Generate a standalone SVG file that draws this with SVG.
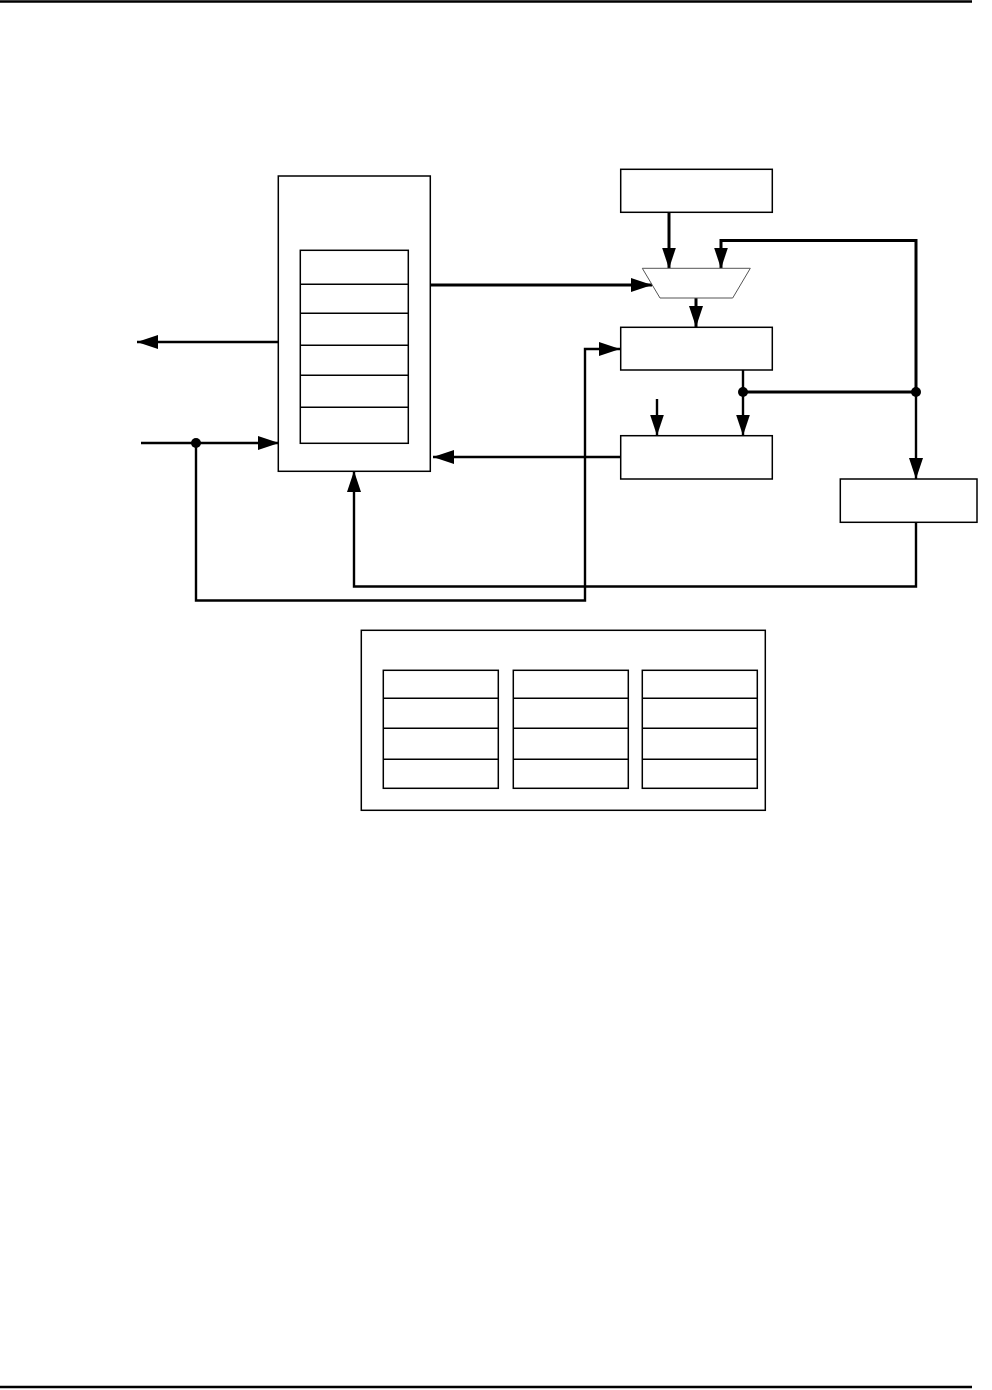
<svg xmlns="http://www.w3.org/2000/svg" width="992" height="1390" viewBox="0 0 992 1390">
<defs>
<style>
.box{fill:#fff;stroke:#000;stroke-width:1.5}
.trap{fill:#fff;stroke:#555;stroke-width:1}
.wire{fill:none;stroke:#000;stroke-width:2.4}
.thick{fill:none;stroke:#000;stroke-width:3}
.rule{stroke:#000;stroke-width:2.5}
</style>
<marker id="ah" markerUnits="userSpaceOnUse" markerWidth="22" markerHeight="15" refX="21" refY="7" orient="auto">
<path d="M0,0 L21,7 L0,14 z" fill="#000"/>
</marker>
</defs>
<rect width="992" height="1390" fill="#fff"/>
<line class="rule" x1="0" y1="1.5" x2="972" y2="1.5"/>
<line class="rule" x1="0" y1="1387" x2="972" y2="1387"/>

<g id="connectors">
<line class="wire" x1="278" y1="342" x2="137" y2="342" marker-end="url(#ah)"/>
<line class="wire" x1="141" y1="443" x2="279" y2="443" marker-end="url(#ah)"/>
<polyline class="wire" points="196,443 196,600.5 585,600.5 585,349 620,349" marker-end="url(#ah)"/>
<polyline class="wire" points="916,522 916,586.5 354,586.5 354,471" marker-end="url(#ah)"/>
<line class="thick" x1="430" y1="285" x2="652" y2="285" marker-end="url(#ah)"/>
<line class="thick" x1="669" y1="212" x2="669" y2="268.5" marker-end="url(#ah)"/>
<polyline class="thick" points="916,392 916,240.5 721,240.5 721,268.5" marker-end="url(#ah)"/>
<line class="thick" x1="696" y1="298" x2="696" y2="327" marker-end="url(#ah)"/>
<line class="wire" x1="743" y1="370" x2="743" y2="435.5" marker-end="url(#ah)"/>
<line class="thick" x1="743" y1="392" x2="916" y2="392"/>
<line class="wire" x1="916" y1="392" x2="916" y2="479" marker-end="url(#ah)"/>
<line class="wire" x1="657" y1="399" x2="657" y2="435.5" marker-end="url(#ah)"/>
<line class="wire" x1="620" y1="457" x2="433" y2="457" marker-end="url(#ah)"/>
<circle cx="196" cy="443" r="5" fill="#000"/>
<circle cx="743" cy="392" r="5" fill="#000"/>
<circle cx="916" cy="392" r="5" fill="#000"/>
</g>

<g id="regfile">
<rect class="box" x="278.3" y="176" width="152" height="295.3"/>
<rect class="box" x="300.3" y="250.3" width="108" height="193"/>
<line class="box" x1="300.3" y1="284.3" x2="408.3" y2="284.3"/>
<line class="box" x1="300.3" y1="313.3" x2="408.3" y2="313.3"/>
<line class="box" x1="300.3" y1="345.3" x2="408.3" y2="345.3"/>
<line class="box" x1="300.3" y1="375.3" x2="408.3" y2="375.3"/>
<line class="box" x1="300.3" y1="407.3" x2="408.3" y2="407.3"/>
</g>

<g id="topbox"><rect class="box" x="620.7" y="169.3" width="151.6" height="43"/></g>
<g id="mux"><polygon class="trap" points="642.3,268.3 750.3,268.3 732.7,298 660,298"/></g>
<g id="box2"><rect class="box" x="620.7" y="327.3" width="151.6" height="42.7"/></g>
<g id="box3"><rect class="box" x="620.7" y="435.7" width="151.6" height="43.3"/></g>
<g id="box4"><rect class="box" x="840.3" y="479" width="136.7" height="43.3"/></g>

<g id="table">
<rect class="box" x="361.3" y="630.3" width="404" height="180"/>
<g id="col1">
<rect class="box" x="383.3" y="670.3" width="115" height="118"/>
<line class="box" x1="383.3" y1="698.3" x2="498.3" y2="698.3"/>
<line class="box" x1="383.3" y1="728.3" x2="498.3" y2="728.3"/>
<line class="box" x1="383.3" y1="759.3" x2="498.3" y2="759.3"/>
</g>
<g id="col2">
<rect class="box" x="513.3" y="670.3" width="115" height="118"/>
<line class="box" x1="513.3" y1="698.3" x2="628.3" y2="698.3"/>
<line class="box" x1="513.3" y1="728.3" x2="628.3" y2="728.3"/>
<line class="box" x1="513.3" y1="759.3" x2="628.3" y2="759.3"/>
</g>
<g id="col3">
<rect class="box" x="642.3" y="670.3" width="115" height="118"/>
<line class="box" x1="642.3" y1="698.3" x2="757.3" y2="698.3"/>
<line class="box" x1="642.3" y1="728.3" x2="757.3" y2="728.3"/>
<line class="box" x1="642.3" y1="759.3" x2="757.3" y2="759.3"/>
</g>
</g>
</svg>
